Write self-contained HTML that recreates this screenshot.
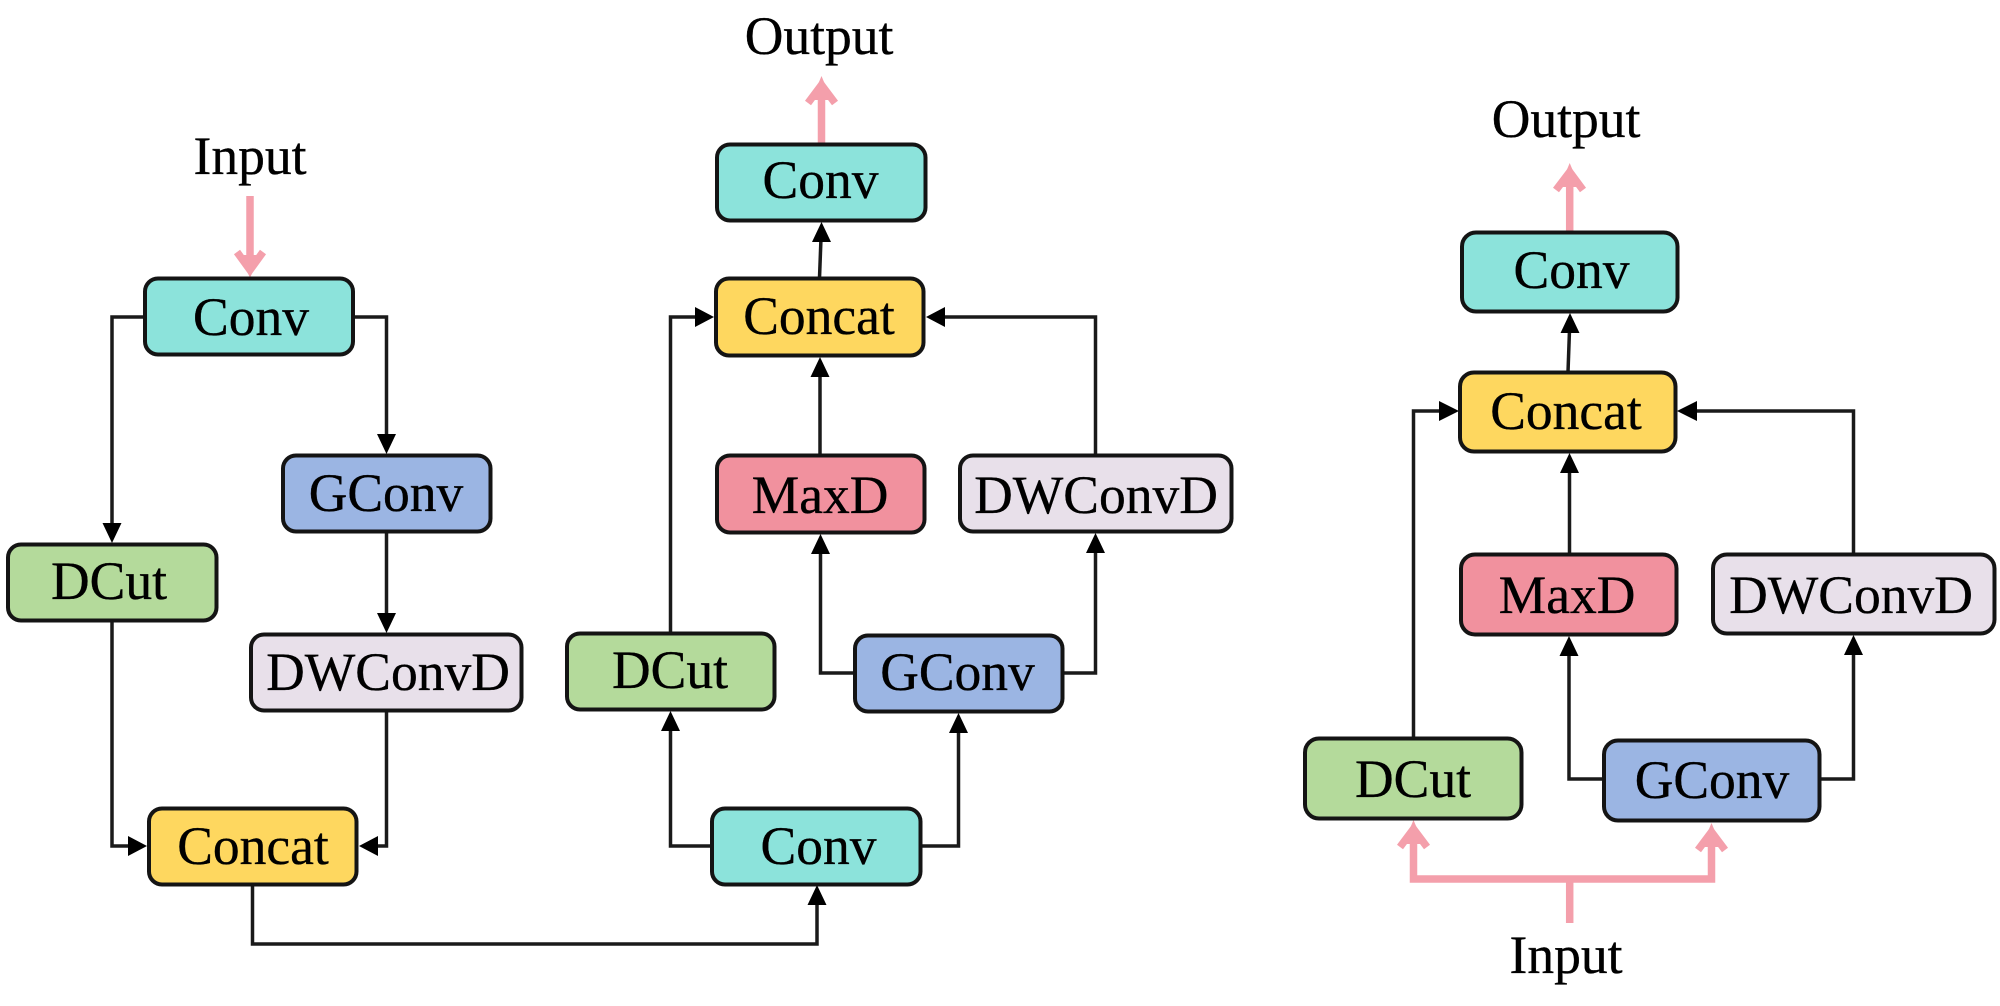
<!DOCTYPE html>
<html><head><meta charset="utf-8"><style>
html,body{margin:0;padding:0;background:#fff}
svg{display:block}
text{font-family:"Liberation Serif","Times New Roman",serif;font-size:53.500px;fill:#000;stroke:#000;stroke-width:.35px;text-anchor:middle}
.b{stroke:#141414;stroke-width:4}
.l{fill:none;stroke:#1a1a1a;stroke-width:3.500}
.p{fill:none;stroke:#f49fab;stroke-width:7.500}
.pf{fill:#f49fab}
.h{fill:#000}
</style></head><body>
<svg width="2000" height="1006" viewBox="0 0 2000 1006" xmlns="http://www.w3.org/2000/svg">
<rect width="2000" height="1006" fill="#fff"/>

<!-- left graph connectors -->
<path class="l" d="M146 317H112V525"/>
<path class="l" d="M352 317H386.500V436"/>
<path class="l" d="M386.500 532V615"/>
<path class="l" d="M112 622V846H130"/>
<path class="l" d="M386.500 711V846H375"/>
<path class="l" d="M252.500 885V944H817V902"/>
<polygon class="h" points="112,543 102.500,523 121.500,523"/>
<polygon class="h" points="386.500,454 377,434 396,434"/>
<polygon class="h" points="386.500,633 377,613 396,613"/>
<polygon class="h" points="147,846 128,836 128,856"/>
<polygon class="h" points="359,846 378,836 378,856"/>
<polygon class="h" points="817,885 807.500,905 826.500,905"/>

<!-- middle graph connectors -->
<path class="l" d="M713 846H670.500V730"/>
<path class="l" d="M920 846H958.500V730"/>
<path class="l" d="M670.500 633V317H697"/>
<path class="l" d="M856 673H820.500V550"/>
<path class="l" d="M1062 673H1095.500V550"/>
<path class="l" d="M820 455V372"/>
<path class="l" d="M1095.500 455V317H942"/>
<path class="l" d="M819.500 278L821 238"/>
<polygon class="h" points="670.500,711 661,731 680,731"/>
<polygon class="h" points="958.500,713 949,733 968,733"/>
<polygon class="h" points="820.500,534 811,554 830,554"/>
<polygon class="h" points="1095.500,533 1086,553 1105,553"/>
<polygon class="h" points="820,357 810.500,377 829.500,377"/>
<polygon class="h" points="926,317 945,307 945,327"/>
<polygon class="h" points="714,317 695,307 695,327"/>
<polygon class="h" points="821.500,222 812,242 831,242"/>

<!-- right graph connectors -->
<path class="l" d="M1413.500 738V411H1440"/>
<path class="l" d="M1605 779H1569V655"/>
<path class="l" d="M1819 779H1853.500V655"/>
<path class="l" d="M1569.500 555V470"/>
<path class="l" d="M1853.500 555V411H1695"/>
<path class="l" d="M1568 372L1569.500 330"/>
<polygon class="h" points="1569,636 1559.500,656 1578.500,656"/>
<polygon class="h" points="1853.500,635 1844,655 1863,655"/>
<polygon class="h" points="1569.500,453 1560,473 1579,473"/>
<polygon class="h" points="1677,411 1697,401 1697,421"/>
<polygon class="h" points="1459,411 1439,401 1439,421"/>
<polygon class="h" points="1570,313 1560.500,333 1579.500,333"/>

<!-- pink arrows -->
<path class="p" d="M250 196V262M237 252L250 270L263 252"/>
<polygon class="pf" points="250,278 240,255 260,255"/>
<path class="p" d="M821.500 143V92M808 103L821.500 85L835 103"/>
<polygon class="pf" points="821.500,76 811.500,100 831.500,100"/>
<path class="p" d="M1569.700 232V180M1556 190L1569.700 172L1583 190"/>
<polygon class="pf" points="1569.700,163 1559.700,187 1579.700,187"/>
<path class="p" d="M1569.700 923V879"/>
<path class="p" d="M1413.500 836V879H1711.500V839"/>
<path class="p" d="M1400 847L1413.500 829L1427 847"/>
<polygon class="pf" points="1413.500,820 1403.500,844 1423.500,844"/>
<path class="p" d="M1698 850L1711.500 832L1725 850"/>
<polygon class="pf" points="1711.500,823 1701.500,847 1721.500,847"/>

<!-- boxes -->
<rect class="b" x="145" y="278.500" width="208" height="76" rx="13" fill="#8ce3db"/>
<rect class="b" x="283" y="455.500" width="207.500" height="76" rx="13" fill="#9bb5e3"/>
<rect class="b" x="8" y="544.500" width="208.500" height="76" rx="13" fill="#b4da9b"/>
<rect class="b" x="251" y="634.500" width="270.500" height="76" rx="13" fill="#e8e0ea"/>
<rect class="b" x="149" y="808.500" width="207.500" height="76" rx="13" fill="#fed75f"/>

<rect class="b" x="712" y="808.500" width="208.500" height="76" rx="13" fill="#8ce3db"/>
<rect class="b" x="567" y="633.500" width="207.500" height="76" rx="13" fill="#b4da9b"/>
<rect class="b" x="855" y="635.500" width="207.500" height="76" rx="13" fill="#9bb5e3"/>
<rect class="b" x="717" y="455.500" width="207.500" height="77" rx="13" fill="#f1919e"/>
<rect class="b" x="960" y="455.500" width="271.500" height="76" rx="13" fill="#e8e0ea"/>
<rect class="b" x="716" y="278.500" width="207.500" height="77" rx="13" fill="#fed75f"/>
<rect class="b" x="717" y="144.500" width="208.500" height="76" rx="13" fill="#8ce3db"/>

<rect class="b" x="1462" y="232.500" width="215.500" height="79" rx="14" fill="#8ce3db"/>
<rect class="b" x="1460" y="372.500" width="215.500" height="79" rx="14" fill="#fed75f"/>
<rect class="b" x="1461" y="554.500" width="215.500" height="80" rx="14" fill="#f1919e"/>
<rect class="b" x="1713" y="554.500" width="281.500" height="79" rx="14" fill="#e8e0ea"/>
<rect class="b" x="1305" y="738.500" width="216.500" height="80" rx="14" fill="#b4da9b"/>
<rect class="b" x="1604" y="740.500" width="215.500" height="80" rx="14" fill="#9bb5e3"/>

<!-- labels -->
<text x="250" y="174">Input</text>
<text x="251" y="335">Conv</text>
<text x="386" y="511">GConv</text>
<text x="109" y="599">DCut</text>
<text x="388" y="690">DWConvD</text>
<text x="253" y="864">Concat</text>

<text x="819" y="54">Output</text>
<text x="820.500" y="198">Conv</text>
<text x="819" y="334">Concat</text>
<text x="820" y="513">MaxD</text>
<text x="1096" y="513">DWConvD</text>
<text x="670" y="688">DCut</text>
<text x="957.500" y="690">GConv</text>
<text x="818.500" y="864">Conv</text>

<text x="1566" y="137">Output</text>
<text x="1571.500" y="288">Conv</text>
<text x="1566" y="429">Concat</text>
<text x="1567" y="613">MaxD</text>
<text x="1851" y="613">DWConvD</text>
<text x="1413" y="797">DCut</text>
<text x="1712" y="798">GConv</text>
<text x="1566" y="973">Input</text>
</svg>
</body></html>
